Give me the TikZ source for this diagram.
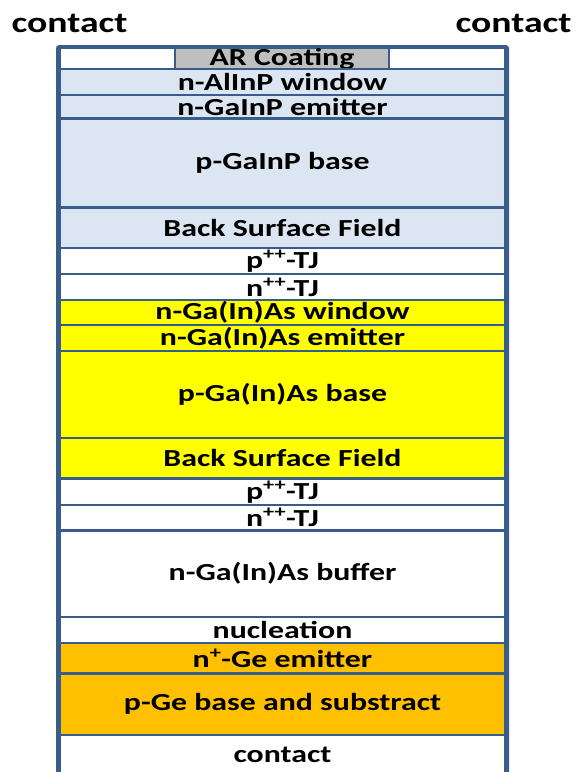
\documentclass[tikz,border=0pt]{standalone}
\usepackage{fontspec}
\setmainfont{Carlito}[FakeStretch=1.3]
\definecolor{frameblue}{RGB}{56,93,138}
\definecolor{lightblue}{RGB}{220,230,242}
\definecolor{cellyellow}{RGB}{255,255,0}
\definecolor{cellorange}{RGB}{255,192,0}
\definecolor{cellgray}{RGB}{191,191,191}
\tikzset{
  layer/.style={draw=frameblue, line width=2.5pt, minimum width=446pt, inner sep=0pt,
    font=\fontsize{24.5}{27}\selectfont\bfseries, text=black},
  toplabel/.style={inner sep=0pt, font=\fontsize{29}{32}\selectfont\bfseries, text=black},
  frame/.style={draw=frameblue, line width=3pt, rounded corners=2pt}
}
\begin{document}
\begin{tikzpicture}[x=1pt,y=-1pt]
\useasboundingbox (0,0) rectangle (576,772);
\clip (0,0) rectangle (576,772);
\fill[white] (0,0) rectangle (576,772);
% top labels
\node[toplabel] (contactL) at (69.5,23) {contact};
\node[toplabel] (contactR) at (513.5,23) {contact};
% AR coating row
\node[layer, fill=white, minimum width=115.5pt, minimum height=21pt] (arL) at (117.25,58.5) {};
\node[layer, fill=cellgray, minimum width=214pt, minimum height=21pt] (ar) at (282,58.5) {AR Coating};
\node[layer, fill=white, minimum width=116.5pt, minimum height=21pt] (arR) at (447.25,58.5) {};
% top cell
\node[layer, fill=lightblue, minimum height=26pt] (win1) at (282.5,82) {n-AlInP window};
\node[layer, fill=lightblue, minimum height=23.5pt] (emi1) at (282.5,106.75) {n-GaInP emitter};
\node[layer, fill=lightblue, minimum height=89pt] (base1) at (282.5,163) {p-GaInP base};
\node[layer, fill=lightblue, minimum height=40.5pt] (bsf1) at (282.5,227.75) {Back Surface Field};
% tunnel junction 1
\node[layer, fill=white, minimum height=26pt] (ptj1) at (282.5,261) {p\textsuperscript{++}-TJ};
\node[layer, fill=white, minimum height=26pt] (ntj1) at (282.5,287) {n\textsuperscript{++}-TJ};
% middle cell
\node[layer, fill=cellyellow, minimum height=25pt] (win2) at (282.5,312.5) {n-Ga(In)As window};
\node[layer, fill=cellyellow, minimum height=26pt] (emi2) at (282.5,338) {n-Ga(In)As emitter};
\node[layer, fill=cellyellow, minimum height=87pt] (base2) at (282.5,394.5) {p-Ga(In)As base};
\node[layer, fill=cellyellow, minimum height=40.5pt] (bsf2) at (282.5,458.25) {Back Surface Field};
% tunnel junction 2
\node[layer, fill=white, minimum height=26.5pt] (ptj2) at (282.5,491.75) {p\textsuperscript{++}-TJ};
\node[layer, fill=white, minimum height=25.5pt] (ntj2) at (282.5,517.75) {n\textsuperscript{++}-TJ};
% buffer and nucleation
\node[layer, fill=white, minimum height=86.5pt] (buf) at (282.5,573.75) {n-Ga(In)As buffer};
\node[layer, fill=white, minimum height=26pt] (nuc) at (282.5,630) {nucleation};
% bottom cell
\node[layer, fill=cellorange, minimum height=30.5pt] (emi3) at (282.5,658.25) {n\textsuperscript{+}-Ge emitter};
\node[layer, fill=cellorange, minimum height=61.5pt] (base3) at (282.5,704.25) {p-Ge base and substract};
\node[layer, fill=white, minimum height=40pt] (contactB) at (282.5,755) {contact};
% outer frame
\draw[frame] (57.5,46.5) rectangle (507.5,800);
\end{tikzpicture}
\end{document}
